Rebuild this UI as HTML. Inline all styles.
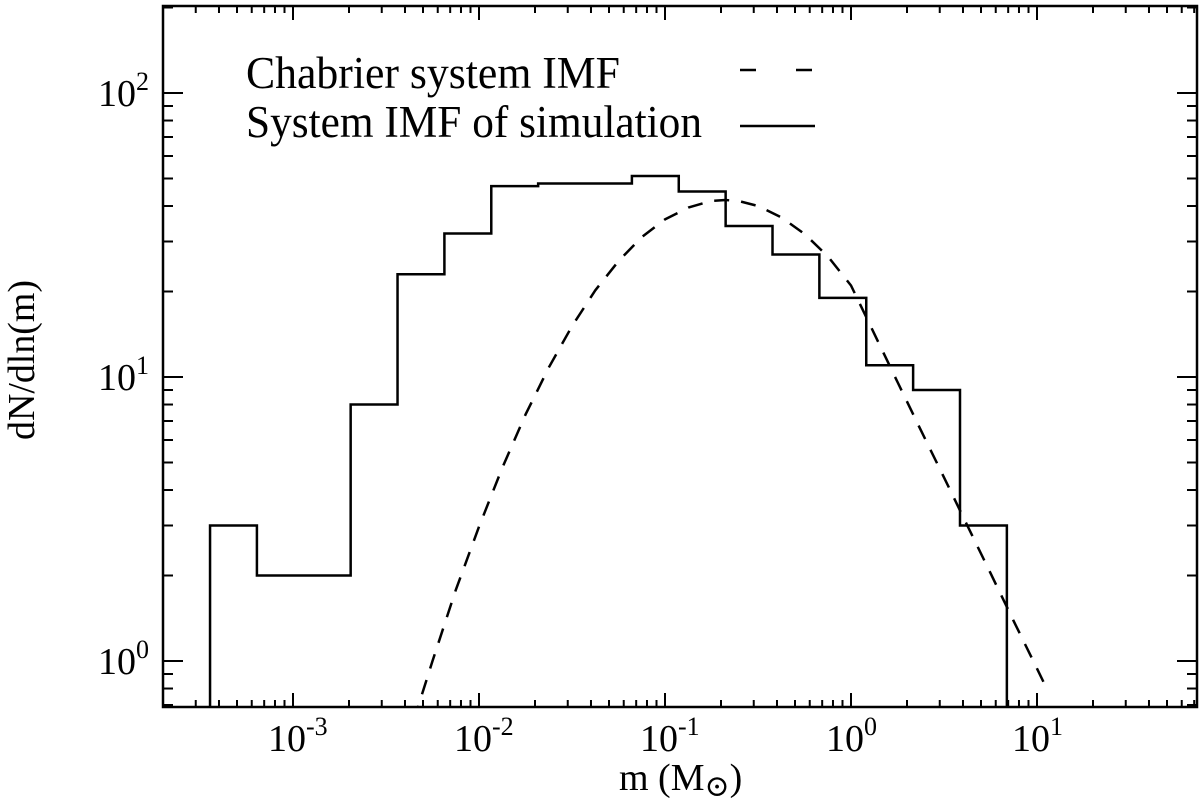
<!DOCTYPE html>
<html><head><meta charset="utf-8"><style>
html,body{margin:0;padding:0;background:#fff;}
svg text{font-family:"Liberation Serif","DejaVu Serif",serif;fill:#000;}
</style></head><body>
<svg id="chart" width="1200" height="804" viewBox="0 0 1200 804" xmlns="http://www.w3.org/2000/svg" font-family="Liberation Serif, serif">
<g id="ticks"></g>
<g id="series"></g>
<rect x="163" y="6" width="1034" height="701" fill="none" stroke="#000" stroke-width="2.5"/>
<g id="labels"></g>
<text font-family="Liberation Serif, serif" transform="translate(34,360) rotate(-90)" text-anchor="middle" font-size="38" textLength="160" lengthAdjust="spacingAndGlyphs">dN/dln(m)</text>
<text font-family="Liberation Serif, serif" x="619" y="790" font-size="38">m (M<tspan font-size="30" dy="6">⊙</tspan><tspan dy="-6">)</tspan></text>
<g font-family="Liberation Serif, serif">
<text x="246" y="88" font-size="45" textLength="374" lengthAdjust="spacingAndGlyphs">Chabrier system IMF</text>
<line x1="740" y1="70" x2="815" y2="70" stroke="#000" stroke-width="2.5" stroke-dasharray="16,40"/>
<text x="246" y="137" font-size="45" textLength="456" lengthAdjust="spacingAndGlyphs">System IMF of simulation</text>
<line x1="740" y1="126" x2="815" y2="126" stroke="#000" stroke-width="2.5"/>
</g>
</svg>
<script>
const binEdgesLogM = [-3.446,-3.194,-2.942,-2.690,-2.438,-2.186,-1.934,-1.682,-1.430,-1.178,-0.926,-0.674,-0.422,-0.170,0.082,0.334,0.586,0.838];
const histValues = [3,2,2,8,23,32,47,48,48,51,45,34,27,19,11,9,3];
const chabLogM = [-2.35,-2.25,-2.125,-2.0,-1.875,-1.75,-1.625,-1.5,-1.375,-1.25,-1.125,-1.0,-0.875,-0.75,-0.675,-0.6,-0.5,-0.375,-0.25,-0.125,0,0.125,0.25,0.375,0.5,0.625,0.75,0.875,1.0,1.06];
const chabValues = [0.62,1.0,1.78,2.97,4.79,7.37,10.8,15.1,20.2,25.6,31.1,35.9,39.5,41.7,42.0,41.6,40.0,36.5,31.9,26.6,21.0,14.2,9.6,6.5,4.43,3.0,2.04,1.38,0.94,0.78];
const xTickExps = [-3,-2,-1,0,1];
const yTickExps = [0,1,2];

const NS='http://www.w3.org/2000/svg';
const L=163,R=1197,T=6,B=707;
const xLog=lm=>293+(lm+3)*186;
const yLog=lv=>661-lv*284;
const ys=v=>Math.max(T,Math.min(B,yLog(Math.log10(v))));
function mk(tag,attrs,parent){const e=document.createElementNS(NS,tag);for(const k in attrs)e.setAttribute(k,attrs[k]);parent.appendChild(e);return e;}
const ticks=document.getElementById('ticks'),labels=document.getElementById('labels'),series=document.getElementById('series');

for(let d=-4;d<=1;d++){for(let k=1;k<=9;k++){const lm=d+Math.log10(k);const x=xLog(lm);if(x<L+1||x>R-1)continue;const len=k===1?14:7;
const t1=mk('line',{x1:x,y1:B,x2:x,y2:B-len,stroke:'#000','stroke-width':2},ticks);


const t2=mk('line',{x1:x,y1:T,x2:x,y2:T+len,stroke:'#000','stroke-width':2},ticks);

}}
for(let d=-1;d<=2;d++){for(let k=1;k<=9;k++){const lv=d+Math.log10(k);const y=yLog(lv);if(y<T+1||y>B-1)continue;const len=k===1?20:10;
const t1=mk('line',{x1:L,y1:y,x2:L+len,y2:y,stroke:'#000','stroke-width':2},ticks);


const t2=mk('line',{x1:R,y1:y,x2:R-len,y2:y,stroke:'#000','stroke-width':2},ticks);

}}
xTickExps.forEach(e=>{const t=mk('text',{x:xLog(e)-25,y:751,'font-size':38,'font-family':'Liberation Serif, serif'},labels);t.textContent='10';


const s=mk('tspan',{dy:-16,'font-size':26},t);s.textContent=String(e);});
yTickExps.forEach(e=>{const t=mk('text',{x:98,y:yLog(e)+13,'font-size':38,'font-family':'Liberation Serif, serif'},labels);t.textContent='10';


const s=mk('tspan',{dy:-16,'font-size':26},t);s.textContent=String(e);});
let d='M'+xLog(binEdgesLogM[0])+','+B;
histValues.forEach((v,i)=>{const y=ys(v);d+=' L'+xLog(binEdgesLogM[i])+','+y+' L'+xLog(binEdgesLogM[i+1])+','+y;});
d+=' L'+xLog(binEdgesLogM[histValues.length])+','+B;
const h=mk('path',{d:d,fill:'none',stroke:'#000','stroke-width':2.5},series);


let cd='';chabLogM.forEach((lm,i)=>{cd+=(i?' L':'M')+xLog(lm).toFixed(1)+','+yLog(Math.log10(chabValues[i])).toFixed(1);});
const cp=mk('clipPath',{id:'clip'},document.getElementById('chart'));mk('rect',{x:L,y:T,width:R-L,height:B-T},cp);
const c=mk('path',{d:cd,fill:'none',stroke:'#000','stroke-width':2.5,'stroke-dasharray':'15,12','clip-path':'url(#clip)','stroke-linejoin':'round'},series);


</script>
</body></html>
